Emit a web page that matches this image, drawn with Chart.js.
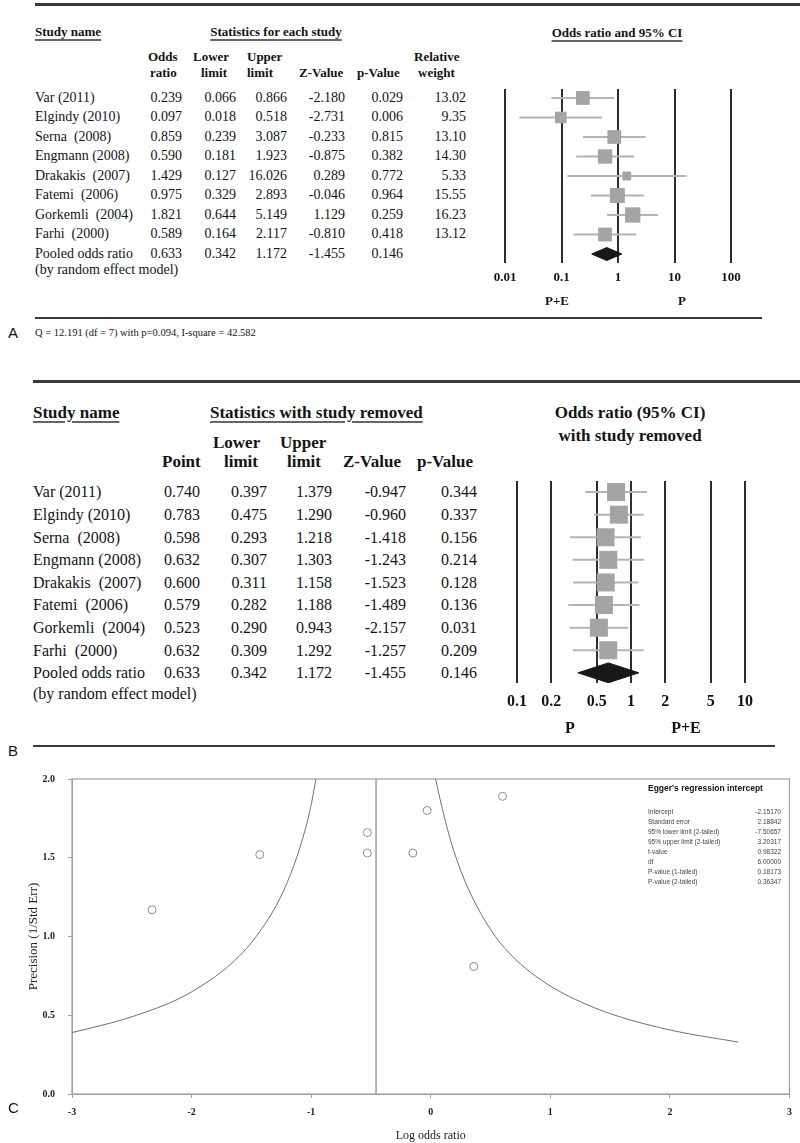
<!DOCTYPE html>
<html>
<head>
<meta charset="utf-8">
<script src="https://cdn.jsdelivr.net/npm/chart.js@4.4.0/dist/chart.umd.min.js"></script>
<style>
  body { margin: 0; background: #fff; }
  #page { position: relative; width: 800px; height: 1143px; overflow: hidden; background: #fff; }
  .t { position: absolute; white-space: pre; font-family: "Liberation Serif", serif; color: #141414; }
  .rule { position: absolute; background: #3a3a3a; }
  canvas { position: absolute; }
</style>
</head>
<body>
<div id="page">
  <canvas id="forestA" width="300" height="250" style="left:470px;top:60px"></canvas>
  <canvas id="forestB" width="310" height="280" style="left:480px;top:460px"></canvas>
  <canvas id="funnel" width="800" height="383" style="left:0px;top:760px"></canvas>
</div>
<script>
// --- data ---
const studies = ['Var (2011)', 'Elgindy (2010)', 'Serna  (2008)', 'Engmann (2008)', 'Drakakis  (2007)', 'Fatemi  (2006)', 'Gorkemli  (2004)', 'Farhi  (2000)'];

// panel A: statistics for each study
const oddsA   = [0.239, 0.097, 0.859, 0.590, 1.429, 0.975, 1.821, 0.589];
const lowerA  = [0.066, 0.018, 0.239, 0.181, 0.127, 0.329, 0.644, 0.164];
const upperA  = [0.866, 0.518, 3.087, 1.923, 16.026, 2.893, 5.149, 2.117];
const zA      = [-2.180, -2.731, -0.233, -0.875, 0.289, -0.046, 1.129, -0.810];
const pA      = [0.029, 0.006, 0.815, 0.382, 0.772, 0.964, 0.259, 0.418];
const weightA = [13.02, 9.35, 13.10, 14.30, 5.33, 15.55, 16.23, 13.12];
// pooled: odds ratio, lower, upper, z, p
const pooled  = [0.633, 0.342, 1.172, -1.455, 0.146];
const ticksA  = [0.01, 0.1, 1, 10, 100];

// panel B: statistics with study removed
const pointB = [0.740, 0.783, 0.598, 0.632, 0.600, 0.579, 0.523, 0.632];
const lowerB = [0.397, 0.475, 0.293, 0.307, 0.311, 0.282, 0.290, 0.309];
const upperB = [1.379, 1.290, 1.218, 1.303, 1.158, 1.188, 0.943, 1.292];
const zB     = [-0.947, -0.960, -1.418, -1.243, -1.523, -1.489, -2.157, -1.257];
const pB     = [0.344, 0.337, 0.156, 0.214, 0.128, 0.136, 0.031, 0.209];
const ticksB = [0.1, 0.2, 0.5, 1, 2, 5, 10];

// panel C: funnel plot
const logOddsC   = [-1.43, -2.33, -0.15, -0.53, 0.36, -0.03, 0.60, -0.53];
const precisionC = [1.52, 1.17, 1.53, 1.66, 0.81, 1.80, 1.89, 1.53];
// funnel limits
const leftCurveX  = [-3.00, -2.68, -2.46, -2.12, -1.89, -1.71, -1.57, -1.46, -1.29, -1.17, -1.08, -1.01, -0.96];
const leftCurveY  = [0.39, 0.45, 0.50, 0.60, 0.70, 0.80, 0.90, 1.00, 1.20, 1.40, 1.60, 1.80, 2.00];
const rightCurveX = [0.04, 0.10, 0.17, 0.26, 0.38, 0.54, 0.65, 0.79, 0.97, 1.21, 1.54, 2.04, 2.57];
const rightCurveY = [2.00, 1.80, 1.60, 1.40, 1.20, 1.00, 0.90, 0.80, 0.70, 0.60, 0.50, 0.40, 0.33];
const eggerLabels = ['Intercept', 'Standard error', '95% lower limit (2-tailed)', '95% upper limit (2-tailed)', 't-value', 'df', 'P-value (1-tailed)', 'P-value (2-tailed)'];
const eggerValues = ['-2.15170', '2.18842', '-7.50657', '3.20317', '0.98322', '6.00000', '0.18173', '0.36347'];

// --- text helpers ---
const page = document.getElementById('page');
function put(text, x, y, o = {}) {
  const d = document.createElement('div');
  d.className = 't';
  d.textContent = text;
  const size = o.size || 14;
  d.style.fontSize = size + 'px';
  d.style.lineHeight = (size * 1.2) + 'px';
  d.style.top = (y - size * 0.6) + 'px';
  d.style.left = x + 'px';
  if (o.bold) d.style.fontWeight = 'bold';
  if (o.font) d.style.fontFamily = o.font;
  if (o.color) d.style.color = o.color;
  if (o.align === 'right') d.style.transform = 'translateX(-100%)';
  if (o.align === 'center') d.style.transform = 'translateX(-50%)';
  if (o.underline) {
    d.style.textDecoration = 'underline';
    d.style.textDecorationThickness = '2px';
    d.style.textUnderlineOffset = '3px';
    d.style.textDecorationColor = '#666';
  }
  page.appendChild(d);
}
function rule(x1, x2, y, w) {
  const d = document.createElement('div');
  d.className = 'rule';
  d.style.left = x1 + 'px';
  d.style.width = (x2 - x1) + 'px';
  d.style.top = (y - w / 2) + 'px';
  d.style.height = w + 'px';
  page.appendChild(d);
}

// --- panel A table ---
rule(35, 800, 4, 3);
put('Study name', 35, 32, { size: 13, bold: true, underline: true });
put('Statistics for each study', 276, 32, { size: 13, bold: true, underline: true, align: 'center' });
put('Odds ratio and 95% CI', 617, 33, { size: 13, bold: true, underline: true, align: 'center' });
[['Odds', 148, 57], ['ratio', 150, 73], ['Lower', 193, 57], ['limit', 201, 73], ['Upper', 247, 57], ['limit', 247, 73],
 ['Z-Value', 299, 73], ['p-Value', 357, 73], ['Relative', 414, 57], ['weight', 418, 73]]
  .forEach(h => put(h[0], h[1], h[2], { size: 13, bold: true }));

const rowA = i => 98 + 19.5 * i;
studies.forEach((s, i) => {
  const y = rowA(i);
  put(s, 35, y, { size: 14 });
  put(oddsA[i].toFixed(3), 182, y, { size: 14, align: 'right' });
  put(lowerA[i].toFixed(3), 236, y, { size: 14, align: 'right' });
  put(upperA[i].toFixed(3), 287, y, { size: 14, align: 'right' });
  put(zA[i].toFixed(3), 345, y, { size: 14, align: 'right' });
  put(pA[i].toFixed(3), 403, y, { size: 14, align: 'right' });
  put(weightA[i].toFixed(2), 466, y, { size: 14, align: 'right' });
});
put('Pooled odds ratio', 35, rowA(8), { size: 14 });
put('(by random effect model)', 35, rowA(8) + 16, { size: 14 });
[182, 236, 287, 345, 403].forEach((x, k) => put(pooled[k].toFixed(3), x, rowA(8), { size: 14, align: 'right' }));
put('P+E', 557, 301, { size: 13, bold: true, align: 'center' });
put('P', 682, 301, { size: 13, bold: true, align: 'center' });
rule(35, 762, 318, 2);
put('A', 8, 333, { size: 15, font: '"Liberation Sans", sans-serif' });
put('Q = 12.191 (df = 7) with p=0.094, I-square = 42.582', 35, 333, { size: 10.5 });

// --- panel B table ---
rule(33, 800, 381, 3);
put('Study name', 33, 413, { size: 17, bold: true, underline: true });
put('Statistics with study removed', 210, 413, { size: 17, bold: true, underline: true });
put('Odds ratio (95% CI)', 630, 413, { size: 17, bold: true, align: 'center' });
put('with study removed', 630, 436, { size: 17, bold: true, align: 'center' });
[['Lower', 213, 443], ['Upper', 280, 443], ['Point', 162, 462], ['limit', 224, 462], ['limit', 287, 462],
 ['Z-Value', 343, 462], ['p-Value', 417, 462]]
  .forEach(h => put(h[0], h[1], h[2], { size: 17, bold: true }));

const rowB = i => 492 + 22.6 * i;
studies.forEach((s, i) => {
  const y = rowB(i);
  put(s, 33, y, { size: 16 });
  put(pointB[i].toFixed(3), 200, y, { size: 16, align: 'right' });
  put(lowerB[i].toFixed(3), 267, y, { size: 16, align: 'right' });
  put(upperB[i].toFixed(3), 332, y, { size: 16, align: 'right' });
  put(zB[i].toFixed(3), 406, y, { size: 16, align: 'right' });
  put(pB[i].toFixed(3), 477, y, { size: 16, align: 'right' });
});
put('Pooled odds ratio', 33, rowB(8), { size: 16 });
put('(by random effect model)', 33, rowB(8) + 21, { size: 16 });
[200, 267, 332, 406, 477].forEach((x, k) => put(pooled[k].toFixed(3), x, rowB(8), { size: 16, align: 'right' }));
put('P', 570, 728, { size: 16, bold: true, align: 'center' });
put('P+E', 686, 728, { size: 16, bold: true, align: 'center' });
rule(33, 775, 746, 2);
put('B', 8, 751, { size: 15, font: '"Liberation Sans", sans-serif' });
put('C', 8, 1108, { size: 15, font: '"Liberation Sans", sans-serif' });

// Egger's box text
put("Egger's regression intercept", 648, 788, { size: 8.5, bold: true, font: '"Liberation Sans", sans-serif' });
eggerLabels.forEach((l, i) => {
  put(l, 648, 812 + 10 * i, { size: 6.5, font: '"Liberation Sans", sans-serif', color: '#444' });
  put(eggerValues[i], 781, 812 + 10 * i, { size: 6.5, font: '"Liberation Sans", sans-serif', color: '#444', align: 'right' });
});

// --- forest plots ---
function forest(id, ors, los, his, sizes, ticks, g) {
  const datasets = [{
    data: ors.map((v, i) => ({ x: v, y: i })),
    pointStyle: 'rect',
    pointRadius: sizes.map(s => s / Math.SQRT2),
    pointBackgroundColor: '#a4a4a4',
    pointBorderWidth: 0,
    order: 0
  }];
  los.forEach((lo, i) => datasets.push({
    data: [{ x: lo, y: i }, { x: his[i], y: i }],
    showLine: true, borderColor: '#b4b4b4', borderWidth: 2, pointRadius: 0, order: 2
  }));
  const r = ors.length;
  datasets.push({
    data: [{ x: pooled[1], y: r }, { x: pooled[0], y: r - g.dh }, { x: pooled[2], y: r }, { x: pooled[0], y: r + g.dh }, { x: pooled[1], y: r }],
    showLine: true, fill: 'shape', backgroundColor: '#181818', borderColor: '#181818', borderWidth: 1, pointRadius: 0, order: 1
  });
  return new Chart(document.getElementById(id), {
    type: 'scatter',
    data: { datasets },
    options: {
      responsive: false, animation: false, events: [],
      layout: { padding: g.pad },
      plugins: { legend: { display: false }, tooltip: { enabled: false } },
      scales: {
        x: {
          type: 'logarithmic', min: ticks[0], max: ticks[ticks.length - 1],
          afterBuildTicks: s => { s.ticks = ticks.map(v => ({ value: v })); },
          afterFit: s => { s.height = g.axisH; },
          ticks: { callback: v => String(v), autoSkip: false, maxRotation: 0, padding: g.tickPad, color: '#141414',
                   font: { family: '"Liberation Serif", serif', size: g.font, weight: 'bold' } },
          grid: { color: '#2e2e2e', lineWidth: 2, drawTicks: false },
          border: { display: false }
        },
        y: { type: 'linear', reverse: true, min: g.ymin, max: g.ymax, display: false }
      }
    }
  });
}

forest('forestA', oddsA, lowerA, upperA, weightA.map(w => 3.8 * Math.sqrt(w)), ticksA,
  { pad: { left: 35, right: 39, top: 29, bottom: 17 }, axisH: 30, tickPad: 7, font: 13, ymin: -0.46, ymax: 8.46, dh: 0.333 });
forest('forestB', pointB, lowerB, upperB, pointB.map(() => 18), ticksB,
  { pad: { left: 37, right: 45, top: 21, bottom: 22 }, axisH: 35, tickPad: 9, font: 16, ymin: -0.49, ymax: 8.45, dh: 0.44 });

// --- funnel plot ---
const frame = {
  id: 'frame',
  beforeDatasetsDraw(chart) {
    const { ctx, chartArea: a } = chart;
    ctx.save();
    ctx.strokeStyle = '#a0a0a0';
    ctx.lineWidth = 1.2;
    ctx.strokeRect(a.left, a.top, a.right - a.left, a.bottom - a.top);
    ctx.restore();
  }
};
const serifBold = { family: '"Liberation Serif", serif', size: 10, weight: 'bold' };
const cLog = Math.log(pooled[0]);
new Chart(document.getElementById('funnel'), {
  type: 'scatter',
  data: {
    datasets: [
      { data: logOddsC.map((v, i) => ({ x: v, y: precisionC[i] })), pointStyle: 'circle', pointRadius: 4,
        pointBorderColor: '#8c8c8c', pointBackgroundColor: '#fff', pointBorderWidth: 1 },
      { data: leftCurveX.map((v, i) => ({ x: v, y: leftCurveY[i] })), showLine: true, cubicInterpolationMode: 'monotone',
        borderColor: '#707070', borderWidth: 1, pointRadius: 0 },
      { data: rightCurveX.map((v, i) => ({ x: v, y: rightCurveY[i] })), showLine: true, cubicInterpolationMode: 'monotone',
        borderColor: '#707070', borderWidth: 1, pointRadius: 0 },
      { data: [{ x: cLog, y: 0 }, { x: cLog, y: 2 }], showLine: true, borderColor: '#9a9a9a', borderWidth: 1.5, pointRadius: 0 }
    ]
  },
  options: {
    responsive: false, animation: false, events: [],
    layout: { padding: { top: 12, right: 7, left: 0, bottom: 0 } },
    plugins: { legend: { display: false }, tooltip: { enabled: false } },
    scales: {
      x: {
        min: -3, max: 3,
        afterFit: s => { s.height = 49; },
        ticks: { stepSize: 1, padding: 8, color: '#222', font: serifBold, maxRotation: 0 },
        grid: { drawOnChartArea: false, drawTicks: true, tickLength: 4, color: '#a0a0a0' },
        border: { color: '#a0a0a0' },
        title: { display: true, text: 'Log odds ratio', color: '#222', padding: { top: 0, bottom: 0 },
                 font: { family: '"Liberation Serif", serif', size: 12 } }
      },
      y: {
        min: 0, max: 2,
        afterFit: s => { s.width = 72; },
        ticks: { stepSize: 0.5, padding: 13, color: '#222', font: serifBold, callback: v => v.toFixed(1) },
        grid: { drawOnChartArea: false, drawTicks: true, tickLength: 4, color: '#a0a0a0' },
        border: { color: '#a0a0a0' },
        title: { display: true, text: 'Precision (1/Std Err)', color: '#222', padding: { top: 26, bottom: 0 },
                 font: { family: '"Liberation Serif", serif', size: 13 } }
      }
    }
  },
  plugins: [frame]
});
</script>
</body>
</html>
